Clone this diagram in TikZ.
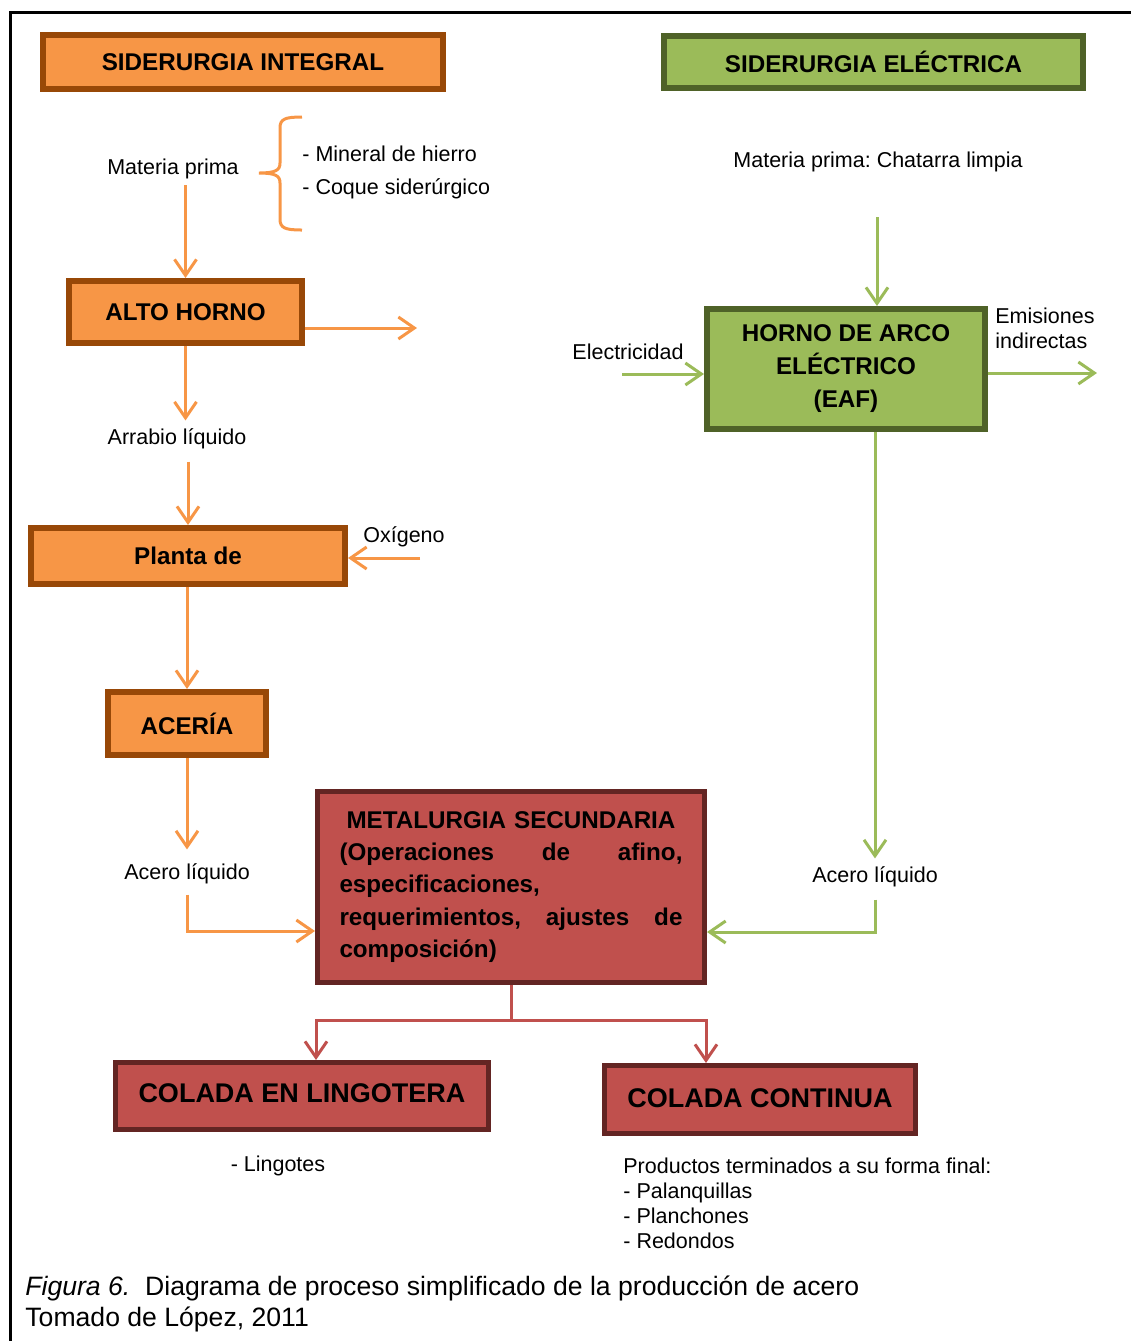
\documentclass[tikz,border=0pt]{standalone}
\usepackage{fontspec}
\setmainfont{Liberation Sans}
\usetikzlibrary{arrows.meta,calc}
\definecolor{orF}{HTML}{F79646}
\definecolor{orD}{HTML}{984807}
\definecolor{grF}{HTML}{9BBB59}
\definecolor{grD}{HTML}{4F6228}
\definecolor{rdF}{HTML}{C0504D}
\definecolor{rdD}{HTML}{632523}
\frenchspacing
\begin{document}
\begin{tikzpicture}[x=0.5pt,y=-0.5pt,
  box/.style={draw, line width=3pt, inner sep=0pt, align=center,
    font=\bfseries\fontsize{12.1}{16.1}\selectfont},
  obox/.style={box, fill=orF, draw=orD},
  gbox/.style={box, fill=grF, draw=grD},
  rbox/.style={box, fill=rdF, draw=rdD, line width=2.5pt},
  lbl/.style={inner sep=0pt, font=\fontsize{10.75}{12.5}\selectfont},
  conn/.style={line width=1.5pt, -{Straight Barb[length=8pt,width=11pt]}},
  oarr/.style={conn, draw=orF},
  garr/.style={conn, draw=grF},
  rarr/.style={conn, draw=rdF}]
\useasboundingbox (0,0) rectangle (1131,1341);
% frame
\draw[line width=1.5pt] (10,1341) -- (10,12) -- (1131,12);

% integrated route
\node[obox, minimum width=200pt, minimum height=27pt] (SI) at (243,62) {\raisebox{-1pt}{SIDERURGIA INTEGRAL}};
\node[lbl] (mp) at (173,169) {Materia prima};
\node[lbl, anchor=west, align=left, font=\fontsize{10.75}{16.5}\selectfont] (mh) at (302,172.5) {- Mineral de hierro\\- Coque siderúrgico};
\draw[orF, line width=1.5pt] (302,117) .. controls (285,117) and (280,119) .. (280,128) -- (280,163)
  .. controls (280,170) and (276,173) .. (259,173)
  .. controls (276,173) and (280,176) .. (280,183) -- (280,219)
  .. controls (280,228) and (285,230) .. (302,230);
\node[obox, minimum width=116.5pt, minimum height=31pt] (AH) at (185.5,312) {ALTO HORNO};
\coordinate (ahout) at (417,328);
\node[lbl] (arr) at (177,439) {Arrabio líquido};
\node[obox, minimum width=157pt, minimum height=28pt] (PL) at (188,556) {Planta de};
\node[lbl] (oxy) at (404,537) {Oxígeno};
\coordinate (oxin) at (420,558);
\node[obox, minimum width=79pt, minimum height=31.5pt] (AC) at (187,723.5) {ACERÍA};
\node[lbl] (acl) at (187,874) {Acero líquido};

% secondary metallurgy
\node[rbox, minimum width=193.5pt, minimum height=95.5pt, text width=171.5pt, align=left] (MET) at (511,887)
  {\hfill METALURGIA SECUNDARIA\hfill\null\\
   (Operaciones\hfill de\hfill afino,\\
   especificaciones,\\
   requerimientos,\hfill ajustes\hfill de\\
   composición)};

% electric route
\node[gbox, minimum width=209.5pt, minimum height=26pt] (SE) at (873.5,62) {\raisebox{-1pt}{SIDERURGIA ELÉCTRICA}};
\node[lbl] (mpc) at (878,162) {Materia prima: Chatarra limpia};
\coordinate (gin) at (877,217);
\node[gbox, minimum width=139pt, minimum height=60pt, font=\bfseries\fontsize{12.1}{16.5}\selectfont] (EAF) at (846,369) {HORNO DE ARCO\\ELÉCTRICO\\(EAF)};
\node[lbl] (elec) at (628,352) {Electricidad};
\coordinate (ein) at (622,374);
\node[lbl, anchor=west, align=left] (emi) at (995,328.5) {Emisiones\\indirectas};
\coordinate (eout) at (1097,373);
\node[lbl] (acr) at (875,877) {Acero líquido};

% casting
\node[rbox, minimum width=186.5pt, minimum height=33.5pt, font=\bfseries\fontsize{13.5}{16}\selectfont] (CL) at (302,1096) {\raisebox{2.5pt}{COLADA EN LINGOTERA}};
\node[rbox, minimum width=155.5pt, minimum height=34pt, font=\bfseries\fontsize{13.5}{16}\selectfont] (CC) at (760,1099.5) {\raisebox{1.75pt}{COLADA CONTINUA}};
\node[lbl] (ling) at (278,1166) {- Lingotes};
\node[lbl, anchor=north west, align=left] (prod) at (623,1158) {Productos terminados a su forma final:\\- Palanquillas\\- Planchones\\- Redondos};

% caption
\node[anchor=west, inner sep=0pt, font=\fontsize{13.3}{15.5}\selectfont] (cap1) at (25,1288) {\textit{Figura 6.}\ \ Diagrama de proceso simplificado de la producción de acero};
\node[anchor=west, inner sep=0pt, font=\fontsize{13.3}{15.5}\selectfont] (cap2) at (25,1319) {Tomado de López, 2011};

% orange connectors
\draw[oarr, shorten <=3pt] (AH.north |- mp.south) -- (AH.north);
\draw[oarr] (ahout -| AH.east) -- (ahout);
\draw[oarr, shorten >=4pt] (AH.south) -- (AH.south |- arr.north);
\draw[oarr, shorten <=6pt] (PL.north |- arr.south) -- (PL.north);
\draw[oarr] (oxin) -- (oxin -| PL.east);
\draw[oarr] (AC.north |- PL.south) -- (AC.north);
\draw[oarr, shorten >=7pt] (AC.south) -- (AC.south |- acl.north);
\draw[oarr, shorten <=5pt] (acl.south) |- ($(MET.west)+(0,44)$);

% green connectors
\draw[garr] (gin) -- (gin |- EAF.north);
\draw[garr] (ein) -- (ein -| EAF.west);
\draw[garr] (eout -| EAF.east) -- (eout);
\draw[garr, shorten >=4pt] (acr.north |- EAF.south) -- (acr.north);
\draw[garr, shorten <=6pt] (acr.south) |- ($(MET.east)+(0,45)$);

% red connectors
\draw[rarr] (MET.south) -- ++(0,35) -| ($(CL.north)+(14,0)$);
\draw[rarr] (MET.south) -- ++(0,35) -| ($(CC.north)+(-54,0)$);
\end{tikzpicture}
\end{document}
